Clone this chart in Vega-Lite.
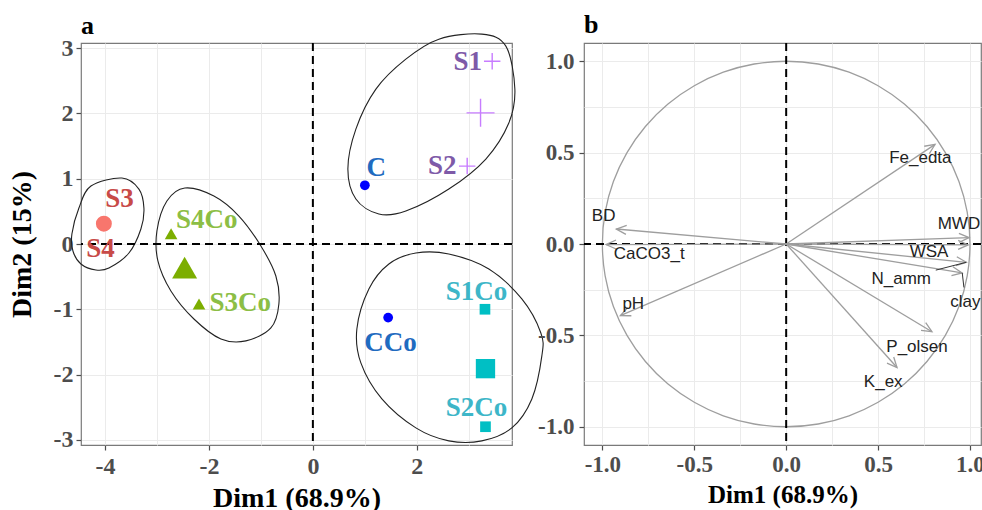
{
  "$schema": "https://vega.github.io/schema/vega-lite/v6.json",
  "background": "white",
  "padding": {"left": 7, "top": 11, "right": 0, "bottom": 0},
  "spacing": 72,
  "bounds": "flush",
  "config": {
    "view": {"stroke": "#7a7a7a", "strokeWidth": 1.2},
    "axis": {
      "domain": false, "grid": true, "gridColor": "#EBEBEB", "gridWidth": 1,
      "tickColor": "#4D4D4D", "tickSize": 5, "tickWidth": 1.2,
      "labelFont": "Liberation Serif", "labelFontWeight": "bold", "labelColor": "#4D4D4D",
      "titleFont": "Liberation Serif", "titleFontWeight": "bold", "titleColor": "#000000",
      "labelFlush": false, "labelOverlap": false
    },
    "title": {"font": "Liberation Serif", "fontWeight": "bold", "fontSize": 26, "anchor": "start", "frame": "group", "baseline": "alphabetic", "color": "#000000"}
  },
  "datasets": {
    "pts": [
      {"name": "C", "g": "C", "kind": "ind", "x": 1.0, "y": 0.9, "lx": 1.22, "ly": 1.16},
      {"name": "CCo", "g": "C", "kind": "ind", "x": 1.448, "y": -1.128, "lx": 1.494, "ly": -1.524},
      {"name": "S1", "g": "S12", "kind": "ind", "x": 3.449, "y": 2.8, "lx": 2.98, "ly": 2.79},
      {"name": "S2", "g": "S12", "kind": "ind", "x": 2.968, "y": 1.194, "lx": 2.487, "ly": 1.199},
      {"name": "S1Co", "g": "S12Co", "kind": "ind", "x": 3.31, "y": -1.0, "lx": 3.147, "ly": -0.738},
      {"name": "S2Co", "g": "S12Co", "kind": "ind", "x": 3.32, "y": -2.8, "lx": 3.147, "ly": -2.507},
      {"name": "S3", "g": "S34", "kind": "ind", "x": -4.0, "y": 0.34, "lx": -3.72, "ly": 0.684},
      {"name": "S4", "g": "S34", "kind": "ind", "x": -4.04, "y": 0.28, "lx": -4.083, "ly": -0.082},
      {"name": "S3Co", "g": "S34Co", "kind": "ind", "x": -2.19, "y": -0.92, "lx": -1.398, "ly": -0.904},
      {"name": "S4Co", "g": "S34Co", "kind": "ind", "x": -2.727, "y": 0.156, "lx": -2.04, "ly": 0.372},
      {"name": "S1/S2", "g": "S12", "kind": "mean", "x": 3.225, "y": 2.01},
      {"name": "S1Co/S2Co", "g": "S12Co", "kind": "mean", "x": 3.32, "y": -1.91},
      {"name": "S3/S4", "g": "S34", "kind": "mean", "x": -4.02, "y": 0.311},
      {"name": "S3Co/S4Co", "g": "S34Co", "kind": "mean", "x": -2.467, "y": -0.363}
    ],
    "ell": [
      {"e": "A", "i": 0, "x": -3.673, "y": 1.011},
      {"e": "A", "i": 1, "x": -3.346, "y": 0.842},
      {"e": "A", "i": 2, "x": -3.25, "y": 0.551},
      {"e": "A", "i": 3, "x": -3.308, "y": 0.23},
      {"e": "A", "i": 4, "x": -3.538, "y": -0.138},
      {"e": "A", "i": 5, "x": -3.923, "y": -0.368},
      {"e": "A", "i": 6, "x": -4.173, "y": -0.398},
      {"e": "A", "i": 7, "x": -4.462, "y": -0.306},
      {"e": "A", "i": 8, "x": -4.615, "y": -0.107},
      {"e": "A", "i": 9, "x": -4.635, "y": 0.153},
      {"e": "A", "i": 10, "x": -4.5, "y": 0.551},
      {"e": "A", "i": 11, "x": -4.269, "y": 0.888},
      {"e": "B", "i": 0, "x": -2.462, "y": 0.858},
      {"e": "B", "i": 1, "x": -1.904, "y": 0.735},
      {"e": "B", "i": 2, "x": -1.423, "y": 0.429},
      {"e": "B", "i": 3, "x": -1.0, "y": -0.031},
      {"e": "B", "i": 4, "x": -0.712, "y": -0.49},
      {"e": "B", "i": 5, "x": -0.654, "y": -0.919},
      {"e": "B", "i": 6, "x": -0.808, "y": -1.286},
      {"e": "B", "i": 7, "x": -1.288, "y": -1.485},
      {"e": "B", "i": 8, "x": -1.769, "y": -1.455},
      {"e": "B", "i": 9, "x": -2.288, "y": -1.149},
      {"e": "B", "i": 10, "x": -2.731, "y": -0.72},
      {"e": "B", "i": 11, "x": -2.981, "y": -0.26},
      {"e": "B", "i": 12, "x": -3.0, "y": 0.199},
      {"e": "B", "i": 13, "x": -2.808, "y": 0.658},
      {"e": "C", "i": 0, "x": 3.25, "y": 3.216},
      {"e": "C", "i": 1, "x": 3.712, "y": 3.032},
      {"e": "C", "i": 2, "x": 3.885, "y": 2.374},
      {"e": "C", "i": 3, "x": 3.769, "y": 1.853},
      {"e": "C", "i": 4, "x": 3.327, "y": 1.302},
      {"e": "C", "i": 5, "x": 2.615, "y": 0.842},
      {"e": "C", "i": 6, "x": 1.788, "y": 0.505},
      {"e": "C", "i": 7, "x": 1.269, "y": 0.459},
      {"e": "C", "i": 8, "x": 0.827, "y": 0.689},
      {"e": "C", "i": 9, "x": 0.673, "y": 1.149},
      {"e": "C", "i": 10, "x": 0.827, "y": 1.761},
      {"e": "C", "i": 11, "x": 1.212, "y": 2.374},
      {"e": "C", "i": 12, "x": 1.788, "y": 2.833},
      {"e": "C", "i": 13, "x": 2.423, "y": 3.139},
      {"e": "D", "i": 0, "x": 1.981, "y": -0.138},
      {"e": "D", "i": 1, "x": 2.615, "y": -0.153},
      {"e": "D", "i": 2, "x": 3.385, "y": -0.383},
      {"e": "D", "i": 3, "x": 4.019, "y": -0.842},
      {"e": "D", "i": 4, "x": 4.385, "y": -1.363},
      {"e": "D", "i": 5, "x": 4.404, "y": -1.715},
      {"e": "D", "i": 6, "x": 4.212, "y": -2.374},
      {"e": "D", "i": 7, "x": 3.827, "y": -2.818},
      {"e": "D", "i": 8, "x": 3.25, "y": -3.017},
      {"e": "D", "i": 9, "x": 2.615, "y": -3.017},
      {"e": "D", "i": 10, "x": 1.981, "y": -2.818},
      {"e": "D", "i": 11, "x": 1.327, "y": -2.374},
      {"e": "D", "i": 12, "x": 0.923, "y": -1.822},
      {"e": "D", "i": 13, "x": 0.846, "y": -1.302},
      {"e": "D", "i": 14, "x": 1.077, "y": -0.689},
      {"e": "D", "i": 15, "x": 1.462, "y": -0.306}
    ],
    "vars": [
      {"v": "Fe_edta", "x": 0.81, "y": 0.545, "lx": 0.73, "ly": 0.469},
      {"v": "BD", "x": -0.924, "y": 0.082, "lx": -0.993, "ly": 0.153},
      {"v": "CaCO3_t", "x": -0.98, "y": -0.003, "lx": -0.745, "ly": -0.054},
      {"v": "MWD", "x": 0.995, "y": 0.035, "lx": 0.94, "ly": 0.107},
      {"v": "WSA", "x": 0.99, "y": -0.005, "lx": 0.777, "ly": -0.042},
      {"v": "N_amm", "x": 0.98, "y": -0.1, "lx": 0.626, "ly": -0.193},
      {"v": "clay", "x": 0.957, "y": -0.158, "lx": 0.975, "ly": -0.32},
      {"v": "pH", "x": -0.902, "y": -0.392, "lx": -0.832, "ly": -0.329},
      {"v": "P_olsen", "x": 0.793, "y": -0.48, "lx": 0.712, "ly": -0.563},
      {"v": "K_ex", "x": 0.603, "y": -0.676, "lx": 0.528, "ly": -0.756}
    ],
    "seg": [
      {"v": "N_amm", "x": 0.814, "y": -0.143, "x2": 0.98, "y2": -0.1},
      {"v": "clay", "x": 0.958, "y": -0.158, "x2": 0.967, "y2": -0.238}
    ],
    "circ": [
      {"i": 0, "x": 1.0, "y": 0.0}, {"i": 1, "x": 0.985, "y": 0.174}, {"i": 2, "x": 0.94, "y": 0.342},
      {"i": 3, "x": 0.866, "y": 0.5}, {"i": 4, "x": 0.766, "y": 0.643}, {"i": 5, "x": 0.643, "y": 0.766},
      {"i": 6, "x": 0.5, "y": 0.866}, {"i": 7, "x": 0.342, "y": 0.94}, {"i": 8, "x": 0.174, "y": 0.985},
      {"i": 9, "x": 0.0, "y": 1.0}, {"i": 10, "x": -0.174, "y": 0.985}, {"i": 11, "x": -0.342, "y": 0.94},
      {"i": 12, "x": -0.5, "y": 0.866}, {"i": 13, "x": -0.643, "y": 0.766}, {"i": 14, "x": -0.766, "y": 0.643},
      {"i": 15, "x": -0.866, "y": 0.5}, {"i": 16, "x": -0.94, "y": 0.342}, {"i": 17, "x": -0.985, "y": 0.174},
      {"i": 18, "x": -1.0, "y": 0.0}, {"i": 19, "x": -0.985, "y": -0.174}, {"i": 20, "x": -0.94, "y": -0.342},
      {"i": 21, "x": -0.866, "y": -0.5}, {"i": 22, "x": -0.766, "y": -0.643}, {"i": 23, "x": -0.643, "y": -0.766},
      {"i": 24, "x": -0.5, "y": -0.866}, {"i": 25, "x": -0.342, "y": -0.94}, {"i": 26, "x": -0.174, "y": -0.985},
      {"i": 27, "x": 0.0, "y": -1.0}, {"i": 28, "x": 0.174, "y": -0.985}, {"i": 29, "x": 0.342, "y": -0.94},
      {"i": 30, "x": 0.5, "y": -0.866}, {"i": 31, "x": 0.643, "y": -0.766}, {"i": 32, "x": 0.766, "y": -0.643},
      {"i": 33, "x": 0.866, "y": -0.5}, {"i": 34, "x": 0.94, "y": -0.342}, {"i": 35, "x": 0.985, "y": -0.174}
    ]
  },
  "hconcat": [
    {
      "width": 431,
      "height": 402,
      "title": {"text": "a", "offset": -7},
      "layer": [
        {
          "data": {"name": "ell"},
          "mark": {"type": "line", "interpolate": "cardinal-closed", "color": "#222222", "strokeWidth": 1.1, "clip": false},
          "encoding": {
            "x": {"field": "x", "type": "quantitative", "scale": {"domain": [-4.46, 3.83], "nice": false, "zero": false},
              "axis": {"title": "Dim1 (68.9%)", "values": [-4, -3, -2, -1, 0, 1, 2, 3],
                "labelExpr": "datum.value % 2 === 0 ? '' + datum.value : ''",
                "tickOpacity": {"condition": {"test": "datum.value % 2 === 0", "value": 1}, "value": 0},
                "labelFontSize": 24, "titleFontSize": 28, "labelPadding": 4, "titlePadding": 6}},
            "y": {"field": "y", "type": "quantitative", "scale": {"domain": [-3.08, 3.08], "nice": false, "zero": false},
              "axis": {"title": "Dim2 (15%)", "values": [-3, -2.5, -2, -1.5, -1, -0.5, 0, 0.5, 1, 1.5, 2, 2.5, 3],
                "labelExpr": "datum.value % 1 === 0 ? '' + datum.value : ''",
                "tickOpacity": {"condition": {"test": "datum.value % 1 === 0", "value": 1}, "value": 0},
                "labelFontSize": 24, "titleFontSize": 28, "labelPadding": 3, "titlePadding": 15,
                "minExtent": 30, "maxExtent": 30}},
            "detail": {"field": "e", "type": "nominal"},
            "order": {"field": "i", "type": "quantitative"}
          }
        },
        {
          "data": {"values": [{}]},
          "mark": {"type": "rule", "color": "#000000", "strokeWidth": 2, "strokeDash": [8, 5]},
          "encoding": {"x": {"datum": 0}}
        },
        {
          "data": {"values": [{}]},
          "mark": {"type": "rule", "color": "#000000", "strokeWidth": 2, "strokeDash": [8, 5]},
          "encoding": {"y": {"datum": 0}}
        },
        {
          "data": {"name": "pts"},
          "transform": [{"filter": "datum.g === 'C'"}],
          "mark": {"type": "point", "shape": "circle", "filled": true, "opacity": 1, "color": "#0000FF"},
          "encoding": {"x": {"field": "x", "type": "quantitative"}, "y": {"field": "y", "type": "quantitative"}, "size": {"value": 95}}
        },
        {
          "data": {"name": "pts"},
          "transform": [{"filter": "datum.g === 'S34'"}],
          "mark": {"type": "point", "shape": "circle", "filled": true, "opacity": 1, "color": "#F8766D"},
          "encoding": {"x": {"field": "x", "type": "quantitative"}, "y": {"field": "y", "type": "quantitative"},
            "size": {"condition": {"test": "datum.kind === 'mean'", "value": 254}, "value": 95}}
        },
        {
          "data": {"name": "pts"},
          "transform": [{"filter": "datum.g === 'S34Co'"}],
          "mark": {"type": "point", "shape": "triangle-up", "filled": true, "opacity": 1, "color": "#7CAE00"},
          "encoding": {"x": {"field": "x", "type": "quantitative"}, "y": {"field": "y", "type": "quantitative"},
            "size": {"condition": {"test": "datum.kind === 'mean'", "value": 625}, "value": 160}}
        },
        {
          "data": {"name": "pts"},
          "transform": [{"filter": "datum.g === 'S12Co'"}],
          "mark": {"type": "point", "shape": "square", "filled": true, "opacity": 1, "color": "#00BFC4"},
          "encoding": {"x": {"field": "x", "type": "quantitative"}, "y": {"field": "y", "type": "quantitative"},
            "size": {"condition": {"test": "datum.kind === 'mean'", "value": 373}, "value": 114}}
        },
        {
          "data": {"name": "pts"},
          "transform": [{"filter": "datum.g === 'S12'"}],
          "mark": {"type": "point", "shape": "M-1,0L1,0M0,-1L0,1", "filled": false, "opacity": 1, "color": "#C77CFF", "strokeWidth": 1.4},
          "encoding": {"x": {"field": "x", "type": "quantitative"}, "y": {"field": "y", "type": "quantitative"},
            "size": {"condition": {"test": "datum.kind === 'mean'", "value": 784}, "value": 270}}
        },
        {
          "data": {"name": "pts"},
          "transform": [{"filter": "datum.kind === 'ind'"}],
          "mark": {"type": "text", "font": "Liberation Serif", "fontWeight": "bold", "fontSize": 27, "align": "center", "baseline": "middle"},
          "encoding": {
            "x": {"field": "lx", "type": "quantitative"},
            "y": {"field": "ly", "type": "quantitative"},
            "text": {"field": "name", "type": "nominal"},
            "fill": {"field": "g", "type": "nominal", "legend": null,
              "scale": {"domain": ["C", "S12", "S12Co", "S34", "S34Co"], "range": ["#1F6BC0", "#7E5AA8", "#3DB6C8", "#C84A48", "#8CBE45"]}}
          }
        }
      ]
    },
    {
      "width": 397,
      "height": 402,
      "title": {"text": "b", "offset": 4},
      "layer": [
        {
          "data": {"name": "circ"},
          "mark": {"type": "line", "interpolate": "cardinal-closed", "color": "#9E9E9E", "strokeWidth": 1.3},
          "encoding": {
            "x": {"field": "x", "type": "quantitative", "scale": {"domain": [-1.1, 1.06], "nice": false, "zero": false},
              "axis": {"title": "Dim1 (68.9%)", "values": [-1, -0.75, -0.5, -0.25, 0, 0.25, 0.5, 0.75, 1], "format": ".1f",
                "labelExpr": "datum.value % 0.5 === 0 ? replace(datum.label, '\u2212', '-') : ''",
                "tickOpacity": {"condition": {"test": "datum.value % 0.5 === 0", "value": 1}, "value": 0},
                "labelFontSize": 23, "titleFontSize": 25, "labelPadding": 3, "titlePadding": 6}},
            "y": {"field": "y", "type": "quantitative", "scale": {"domain": [-1.1, 1.1], "nice": false, "zero": false},
              "axis": {"title": null, "values": [-1, -0.75, -0.5, -0.25, 0, 0.25, 0.5, 0.75, 1], "format": ".1f",
                "labelExpr": "datum.value % 0.5 === 0 ? replace(datum.label, '\u2212', '-') : ''",
                "tickOpacity": {"condition": {"test": "datum.value % 0.5 === 0", "value": 1}, "value": 0},
                "labelFontSize": 23, "labelPadding": 5}},
            "order": {"field": "i", "type": "quantitative"}
          }
        },
        {
          "data": {"values": [{}]},
          "mark": {"type": "rule", "color": "#000000", "strokeWidth": 2, "strokeDash": [8, 5]},
          "encoding": {"x": {"datum": 0}}
        },
        {
          "data": {"values": [{}]},
          "mark": {"type": "rule", "color": "#000000", "strokeWidth": 2, "strokeDash": [8, 5]},
          "encoding": {"y": {"datum": 0}}
        },
        {
          "data": {"name": "vars"},
          "mark": {"type": "rule", "color": "#9E9E9E", "strokeWidth": 1.3},
          "encoding": {"x": {"field": "x", "type": "quantitative"}, "y": {"field": "y", "type": "quantitative"}, "x2": {"datum": 0}, "y2": {"datum": 0}}
        },
        {
          "data": {"name": "vars"},
          "transform": [{"calculate": "atan2(datum.x, datum.y) * 180 / PI", "as": "ang"}],
          "mark": {"type": "point", "shape": "M-0.45,1L0,0L0.45,1", "filled": false, "opacity": 1, "color": "#9E9E9E", "strokeWidth": 1.3, "size": 400},
          "encoding": {"x": {"field": "x", "type": "quantitative"}, "y": {"field": "y", "type": "quantitative"},
            "angle": {"field": "ang", "type": "quantitative", "scale": null}}
        },
        {
          "data": {"name": "seg"},
          "mark": {"type": "rule", "color": "#333333", "strokeWidth": 1},
          "encoding": {"x": {"field": "x", "type": "quantitative"}, "y": {"field": "y", "type": "quantitative"}, "x2": {"field": "x2"}, "y2": {"field": "y2"}}
        },
        {
          "data": {"name": "vars"},
          "mark": {"type": "text", "font": "Liberation Sans", "fontSize": 17, "align": "center", "baseline": "middle", "color": "#222222"},
          "encoding": {"x": {"field": "lx", "type": "quantitative"}, "y": {"field": "ly", "type": "quantitative"}, "text": {"field": "v", "type": "nominal"}}
        }
      ]
    }
  ]
}
